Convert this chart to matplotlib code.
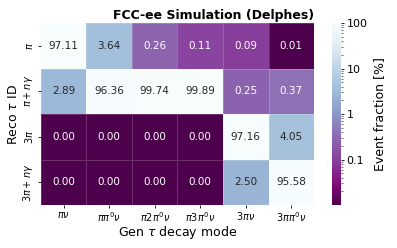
import numpy as np
import matplotlib
matplotlib.use("Agg")
import matplotlib.pyplot as plt
import seaborn as sns
from matplotlib.colors import LogNorm
from matplotlib.ticker import FuncFormatter

gen_modes = [r"$\pi\nu$", r"$\pi\pi^0\nu$", r"$\pi2\pi^0\nu$", r"$\pi3\pi^0\nu$",
             r"$3\pi\nu$", r"$3\pi\pi^0\nu$"]
reco_ids = [r"$\pi$", r"$\pi+n\gamma$", r"$3\pi$", r"$3\pi+n\gamma$"]

row_pi = [97.11, 3.64, 0.26, 0.11, 0.09, 0.01]
row_pi_ngamma = [2.89, 96.36, 99.74, 99.89, 0.25, 0.37]
row_3pi = [0.00, 0.00, 0.00, 0.00, 97.16, 4.05]
row_3pi_ngamma = [0.00, 0.00, 0.00, 0.00, 2.50, 95.58]

matrix = np.array([row_pi, row_pi_ngamma, row_3pi, row_3pi_ngamma])

fig = plt.figure(figsize=(3.97, 2.48), dpi=100)
ax = fig.add_axes([0.103, 0.173, 0.688, 0.734])
cax = fig.add_axes([0.837, 0.173, 0.022, 0.734])

# log scale, zeros clip to the bottom colour
plot_vals = np.clip(matrix, 0.01, None)
sns.heatmap(plot_vals, ax=ax, cbar_ax=cax, cmap="BuPu_r",
            norm=LogNorm(vmin=0.01, vmax=100), annot=matrix, fmt=".2f",
            annot_kws={"fontsize": 7.5}, linewidths=0.5, linecolor="#ffffff30",
            xticklabels=gen_modes, yticklabels=reco_ids)

ax.set_xticklabels(gen_modes, fontsize=7, rotation=0)
ax.set_yticklabels(reco_ids, fontsize=7, rotation=90, va="center")
ax.tick_params(length=2.5, width=0.6, pad=2)
ax.tick_params(axis="x", pad=1)
ax.set_xlabel(r"Gen $\tau$ decay mode", fontsize=9, labelpad=0)
ax.set_ylabel(r"Reco $\tau$ ID", fontsize=9, labelpad=0.5)
ax.set_title("FCC-ee Simulation (Delphes)", fontsize=9, fontweight="bold", loc="right", pad=3)

cb = ax.collections[0].colorbar
cb.set_ticks([0.1, 1, 10, 100])
cb.ax.yaxis.set_major_formatter(FuncFormatter(lambda v, p: f"{v:g}"))
cb.ax.tick_params(labelsize=8, length=2.5, width=0.6, pad=1.5)
cb.ax.tick_params(which="minor", length=1.3, width=0.4)
cb.set_label("Event fraction [%]", fontsize=9, labelpad=4)
cb.outline.set_visible(False)

fig.savefig("out.png", dpi=100)
